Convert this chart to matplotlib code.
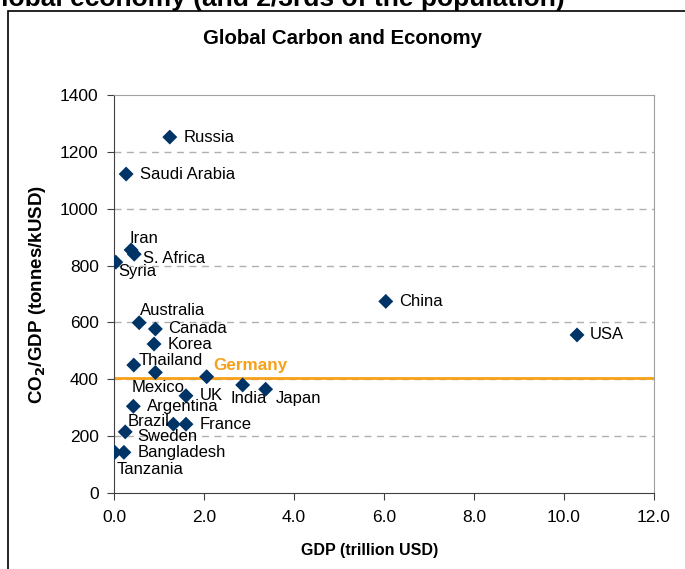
import matplotlib
matplotlib.use("Agg")
import matplotlib.pyplot as plt
from matplotlib.patches import Rectangle

plt.rcParams['font.family'] = ['Liberation Sans', 'DejaVu Sans']

countries = ["Russia", "Saudi Arabia", "Iran", "S. Africa", "Syria", "China", "USA",
             "Australia", "Canada", "Korea", "Thailand", "Mexico", "UK", "India",
             "Japan", "Argentina", "Brazil", "France", "Sweden", "Bangladesh", "Tanzania"]
gdp = [1.24, 0.27, 0.38, 0.45, 0.04, 6.04, 10.29,
       0.56, 0.92, 0.89, 0.44, 0.92, 1.60, 2.86,
       3.37, 0.43, 1.32, 1.60, 0.25, 0.22, 0.02]
co2_gdp = [1252, 1122, 855, 840, 812, 674, 556,
           599, 577, 524, 450, 424, 342, 380,
           365, 305, 242, 242, 215, 143, 143]

germany_gdp = 2.06
germany_co2 = 409
germany_line = 406

x_ticks = [0, 2, 4, 6, 8, 10, 12]
y_ticks = [0, 200, 400, 600, 800, 1000, 1200, 1400]

# label offsets in points (dx, dy, ha)
offsets = {
    "Russia": (10, 0, 'left'),
    "Saudi Arabia": (10, 0, 'left'),
    "Iran": (-1, 8, 'left'),
    "S. Africa": (6.5, -3, 'left'),
    "Syria": (1.5, -7, 'left'),
    "China": (9.5, 0, 'left'),
    "USA": (9.5, 0, 'left'),
    "Australia": (0.5, 8.5, 'left'),
    "Canada": (9.5, 0.5, 'left'),
    "Korea": (9.5, 0, 'left'),
    "Thailand": (3.6, 3, 'left'),
    "Mexico": (-17, -11, 'left'),
    "UK": (10, 0, 'left'),
    "India": (-9, -10, 'left'),
    "Japan": (7, -7, 'left'),
    "Argentina": (10, 0, 'left'),
    "Brazil": (-2.5, 2, 'right'),
    "France": (10, -0.5, 'left'),
    "Sweden": (8.6, -3, 'left'),
    "Bangladesh": (10, 0, 'left'),
    "Tanzania": (1.5, -12.5, 'left'),
}

fig = plt.figure(figsize=(6.85, 5.69), dpi=100)
ax = fig.add_axes([0.1664, 0.1336, 0.9547 - 0.1664, 0.833 - 0.1336])

navy = '#003366'
orange = '#F7A11A'

for yv in y_ticks[1:-1]:
    ax.axhline(yv, color='#B0B0B0', lw=1, ls=(0, (5, 4)), zorder=1)

ax.axhline(germany_line, color=orange, lw=2, zorder=2)

ax.scatter(gdp + [germany_gdp], co2_gdp + [germany_co2], marker='D', s=58,
           color=navy, edgecolors='none', zorder=3)

for name, xv, yv in zip(countries, gdp, co2_gdp):
    dx, dy, ha = offsets[name]
    ax.annotate(name, (xv, yv), xytext=(dx, dy), textcoords='offset points',
                ha=ha, va='center', fontsize=12, color='black', zorder=4)

ax.annotate("Germany", (germany_gdp, germany_co2), xytext=(5, 8),
            textcoords='offset points', ha='left', va='center', fontsize=12.3,
            fontweight='bold', color=orange, zorder=4)

ax.set_xlim(0, 12)
ax.set_ylim(0, 1400)
ax.set_xticks(x_ticks)
ax.set_xticklabels([f"{v:.1f}" for v in x_ticks])
ax.set_yticks(y_ticks)
ax.tick_params(labelsize=12.5, length=5, color='#404040')
ax.tick_params(axis='x', pad=7)
ax.tick_params(axis='y', pad=6)
for s in ['top', 'right']:
    ax.spines[s].set_color('#A0A0A0')
for s in ['left', 'bottom']:
    ax.spines[s].set_color('#404040')

ax.set_xlabel("GDP (trillion USD)", fontsize=11.5, fontweight='bold', labelpad=13)
ax.xaxis.label.set_x((370 - 114) / 540)
ax.set_ylabel("CO$_\\mathbf{2}$/GDP (tonnes/kUSD)", fontsize=13.5, fontweight='bold', labelpad=9)

fig.text(0.5, 1 - 39 / 569, "Global Carbon and Economy", ha='center', va='center',
         fontsize=14.7, fontweight='bold')

fig.patches.append(Rectangle((8 / 685, -0.1), 1.2, 1.1 - 11 / 569, transform=fig.transFigure,
                             fill=False, edgecolor='black', lw=1.2, clip_on=False))

fig.text(565 / 685, 1 - 6 / 569, "the global economy (and 2/3rds of the population)",
         ha='right', va='baseline', fontsize=19, fontweight='bold')

fig.savefig("out.png", dpi=100)
